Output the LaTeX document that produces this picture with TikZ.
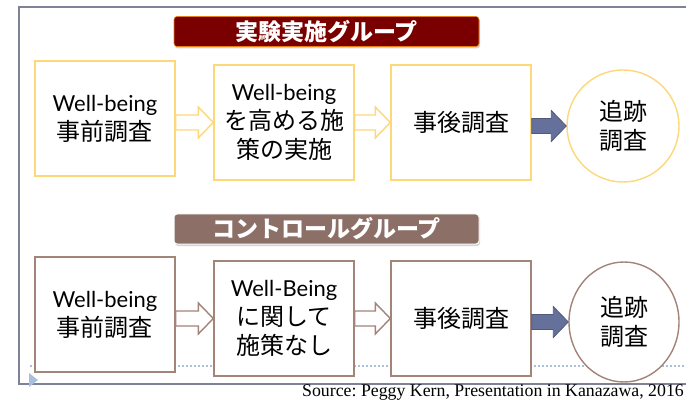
\documentclass[tikz,border=0pt]{standalone}
\usepackage{fontspec}
\setmainfont{Lato}
\newfontfamily\jpfont{Noto Sans CJK JP}
\newfontfamily\srcfont{Liberation Serif}
\usetikzlibrary{calc,shapes.geometric,shadows}
\definecolor{frameline}{HTML}{7F8199}
\definecolor{testline}{HTML}{FCD87A}
\definecolor{ctrlline}{HTML}{A38478}
\definecolor{testbanner}{HTML}{7A0000}
\definecolor{ctrlbanner}{HTML}{8C7068}
\definecolor{followarrow}{HTML}{65709B}
\definecolor{guideline}{HTML}{A9C0DC}
\def\blockarrow[#1](#2)(#3){\draw[#1] ($(#2.east |- #3.west)+(0,-7.5)$) -- ($(#3.west)+(-15,-7.5)$) -- ($(#3.west)+(-15,-15.5)$) -- (#3.west) -- ($(#3.west)+(-15,15.5)$) -- ($(#3.west)+(-15,7.5)$) -- ($(#2.east |- #3.west)+(0,7.5)$) -- cycle;}
\frenchspacing

\begin{document}
\begin{tikzpicture}[x=1pt,y=-1pt,
    stepbox/.style={draw=#1,line width=1.4pt,fill=white,minimum width=140pt,minimum height=115pt,
        inner sep=0pt,align=center,font=\fontsize{22}{29}\selectfont},
    followup/.style={stepbox=#1,ellipse},
    banner/.style={fill=#1,rounded corners=3pt,minimum width=305pt,minimum height=30pt,inner sep=0pt,
        text=white,font=\jpfont\bfseries\fontsize{23}{25}\selectfont,
        drop shadow={shadow xshift=1pt,shadow yshift=-2pt,opacity=0.35}},
    hollow/.style={draw=#1,line width=1.4pt,fill=white}]
    \useasboundingbox (0,0) rectangle (686,401);
    %%%%% START %%%%%
    \draw[frameline,line width=1.5pt] (686,7) -- (19,7) -- (19,384) -- (686,384);
    \draw[guideline,line width=1.3pt,dash pattern=on 2pt off 2pt] (30,366) -- (686,366);
    \fill[guideline] (29,373) -- (38,380) -- (29,387) -- cycle;
    
    % experimental group
    \node[banner=testbanner,draw=orange!60!brown,line width=0.6pt] (testtitle) at (326.5,31.5) {実験実施グループ};
    \node[stepbox=testline] (testpre) at (105,118.5) {Well-being\\\jpfont\fontsize{24}{29}\selectfont 事前調査};
    \node[stepbox=testline] (testmeasure) at (284,122.5) {Well-being\\\jpfont\fontsize{24}{29}\selectfont を高める施\\\jpfont\fontsize{24}{29}\selectfont 策の実施};
    \node[stepbox=testline] (testpost) at (461,122.5) {\jpfont\fontsize{24}{29}\selectfont 事後調査};
    \node[followup=testline,minimum width=112pt,minimum height=112pt] (testfollow) at (623,126) {\jpfont\fontsize{24}{29}\selectfont 追跡\\\jpfont\fontsize{24}{29}\selectfont 調査};
    
    \blockarrow[hollow=testline](testpre)(testmeasure)
    \blockarrow[hollow=testline](testmeasure)(testpost)
    \blockarrow[fill=followarrow,draw=followarrow!80!black,line width=0.8pt](testpost)(testfollow)
    
    % control group
    \node[banner=ctrlbanner,draw=white,line width=1pt] (ctrltitle) at (326.5,229) {コントロールグループ};
    \node[stepbox=ctrlline] (ctrlpre) at (105,314.5) {Well-being\\\jpfont\fontsize{24}{29}\selectfont 事前調査};
    \node[stepbox=ctrlline] (ctrlmeasure) at (284,318.5) {Well-Being\\\jpfont\fontsize{24}{29}\selectfont に関して\\\jpfont\fontsize{24}{29}\selectfont 施策なし};
    \node[stepbox=ctrlline] (ctrlpost) at (461,318.5) {\jpfont\fontsize{24}{29}\selectfont 事後調査};
    \node[followup=ctrlline,minimum width=110pt,minimum height=120pt] (ctrlfollow) at (624,322) {\jpfont\fontsize{24}{29}\selectfont 追跡\\\jpfont\fontsize{24}{29}\selectfont 調査};
    
    \blockarrow[hollow=ctrlline](ctrlpre)(ctrlmeasure)
    \blockarrow[hollow=ctrlline](ctrlmeasure)(ctrlpost)
    \blockarrow[fill=followarrow,draw=followarrow!80!black,line width=0.8pt](ctrlpost)(ctrlfollow)
    
    \node[anchor=base east,inner sep=0pt,font=\srcfont\fontsize{17.8}{20}\selectfont] (source) at (684,396) {Source: Peggy Kern, Presentation in Kanazawa, 2016};
    %%%%% END %%%%%
\end{tikzpicture}
\end{document}
